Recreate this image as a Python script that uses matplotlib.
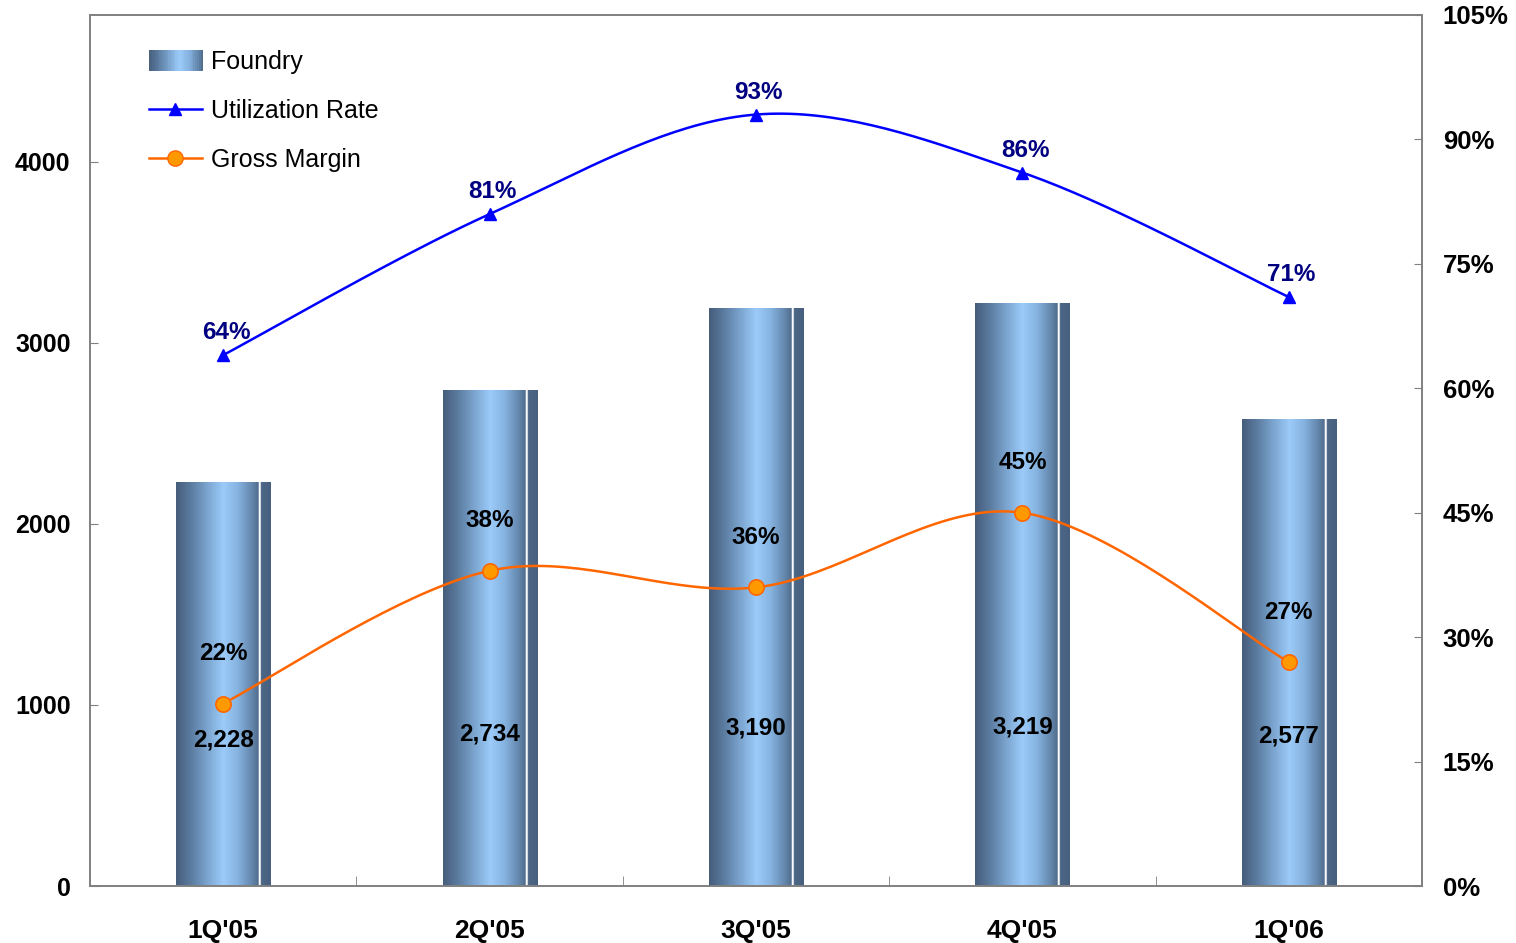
import numpy as np
import matplotlib
matplotlib.use("Agg")
import matplotlib.pyplot as plt
from matplotlib.colors import LinearSegmentedColormap
from matplotlib.legend_handler import HandlerBase
from matplotlib.patches import Rectangle
from matplotlib.lines import Line2D

plt.rcParams['font.family'] = ['Liberation Sans', 'DejaVu Sans']

quarters = ["1Q'05", "2Q'05", "3Q'05", "4Q'05", "1Q'06"]
foundry = [2228, 2734, 3190, 3219, 2577]
utilization = [64, 81, 93, 86, 71]
gross_margin = [22, 38, 36, 45, 27]

bar_cmap = LinearSegmentedColormap.from_list("bar", [
    (0.00, "#465d7b"), (0.15, "#5a7a9e"), (0.35, "#7fa9d4"), (0.50, "#9ccbf9"),
    (0.65, "#86b3e0"), (0.80, "#6487ad"), (0.872, "#506b8b"), (0.874, "#ffffff"),
    (0.893, "#ffffff"), (0.895, "#4d6787"), (1.00, "#48607f")])


def smooth(xs, ys, n=40):
    # catmull-rom through the points, like excel's smoothed line
    xs = np.asarray(xs, float)
    ys = np.asarray(ys, float)
    px = np.concatenate([[xs[0]], xs, [xs[-1]]])
    py = np.concatenate([[ys[0]], ys, [ys[-1]]])
    outx, outy = [], []
    t = np.linspace(0, 1, n)
    for i in range(1, len(px) - 2):
        p0, p1, p2, p3 = (np.array([px[j], py[j]]) for j in range(i - 1, i + 3))
        c1 = p1 + (p2 - p0) / 6
        c2 = p2 - (p3 - p1) / 6
        b = ((1 - t) ** 3)[:, None] * p1 + (3 * (1 - t) ** 2 * t)[:, None] * c1 \
            + (3 * (1 - t) * t ** 2)[:, None] * c2 + (t ** 3)[:, None] * p2
        outx.extend(b[:, 0])
        outy.extend(b[:, 1])
    return np.array(outx), np.array(outy)


class GradientHandler(HandlerBase):
    def create_artists(self, legend, orig_handle, xd, yd, width, height, fontsize, trans):
        arts = []
        k = 30
        for i in range(k):
            c = bar_cmap(0.87 * (i + 0.5) / k)
            arts.append(Rectangle((xd + width * i / k, yd + height * 0.5 - 7.5), width / k + 0.3,
                                  15, facecolor=c, edgecolor='none', transform=trans))
        return arts


fig = plt.figure(figsize=(15.16, 9.43), dpi=100)
ax = fig.add_axes([90 / 1516, 57 / 943, 1332 / 1516, 871 / 943])
ax2 = ax.twinx()

x = np.arange(len(quarters))
w = 0.353
grad = np.linspace(0, 1, 256).reshape(1, -1)
for xi, v in zip(x, foundry):
    ax.imshow(grad, cmap=bar_cmap, aspect='auto', extent=(xi - w / 2, xi + w / 2, 0, v),
              interpolation='bilinear', zorder=2)
    ax.text(xi, 650 + 0.07 * v, f"{v:,}", ha='center', va='center', fontsize=17.5,
            fontweight='bold', zorder=5)

ax.set_xlim(-0.5, len(quarters) - 0.5)
ax.set_ylim(0, 4810)
ax.set_yticks([0, 1000, 2000, 3000, 4000])
ax.set_xticks(x)
ax.set_xticklabels(quarters)
ax.set_xticks(np.arange(-0.5, len(quarters)), minor=True)
ax.tick_params(axis='x', which='major', length=0, pad=24, labelsize=19)
ax.tick_params(axis='x', which='minor', direction='in', length=7, color='#808080')
ax.tick_params(axis='y', direction='in', length=6, color='#808080', pad=14, labelsize=18)
for lab in ax.get_xticklabels() + ax.get_yticklabels():
    lab.set_fontweight('bold')

ax2.set_ylim(0, 105)
ax2.set_yticks(range(0, 106, 15))
ax2.set_yticklabels([f"{t}%" for t in range(0, 106, 15)])
ax2.tick_params(axis='y', direction='in', length=6, color='#808080', pad=15, labelsize=18.5)
for lab in ax2.get_yticklabels():
    lab.set_fontweight('bold')
for a in (ax, ax2):
    for s in a.spines.values():
        s.set_color('#808080')
        s.set_linewidth(1.2)

sx, sy = smooth(x, utilization)
ax2.plot(sx, sy, color='#0000ff', lw=1.8, zorder=3)
ax2.plot(x, utilization, ls='none', marker='^', ms=9, color='#0000ff', zorder=4)
sx, sy = smooth(x, gross_margin)
ax2.plot(sx, sy, color='#ff6600', lw=1.8, zorder=3)
ax2.plot(x, gross_margin, ls='none', marker='o', ms=11, mfc='#ff9900', mec='#ff6600',
         mew=1.2, zorder=4)

for xi, u in zip(x, utilization):
    ax2.annotate(f"{u}%", (xi, u), xytext=(2, 16), textcoords='offset points', ha='center',
                 va='center', fontsize=17.5, fontweight='bold', color='#000080', zorder=5)
for xi, g in zip(x, gross_margin):
    ax2.annotate(f"{g}%", (xi, g), xytext=(0, 36), textcoords='offset points', ha='center',
                 va='center', fontsize=17.5, fontweight='bold', color='black', zorder=5)

handles = [Rectangle((0, 0), 1, 1),
           Line2D([], [], color='#0000ff', lw=1.8, marker='^', ms=9),
           Line2D([], [], color='#ff6600', lw=1.8, marker='o', ms=11, mfc='#ff9900', mec='#ff6600')]
ax2.legend(handles, ['Foundry', 'Utilization Rate', 'Gross Margin'], loc='upper left',
           bbox_to_anchor=(0.044, 0.960), borderaxespad=0, borderpad=0, frameon=False,
           fontsize=18, handlelength=2.15, handletextpad=0.35, labelspacing=1.0,
           handler_map={Rectangle: GradientHandler()})

fig.savefig("out.png", dpi=100)
